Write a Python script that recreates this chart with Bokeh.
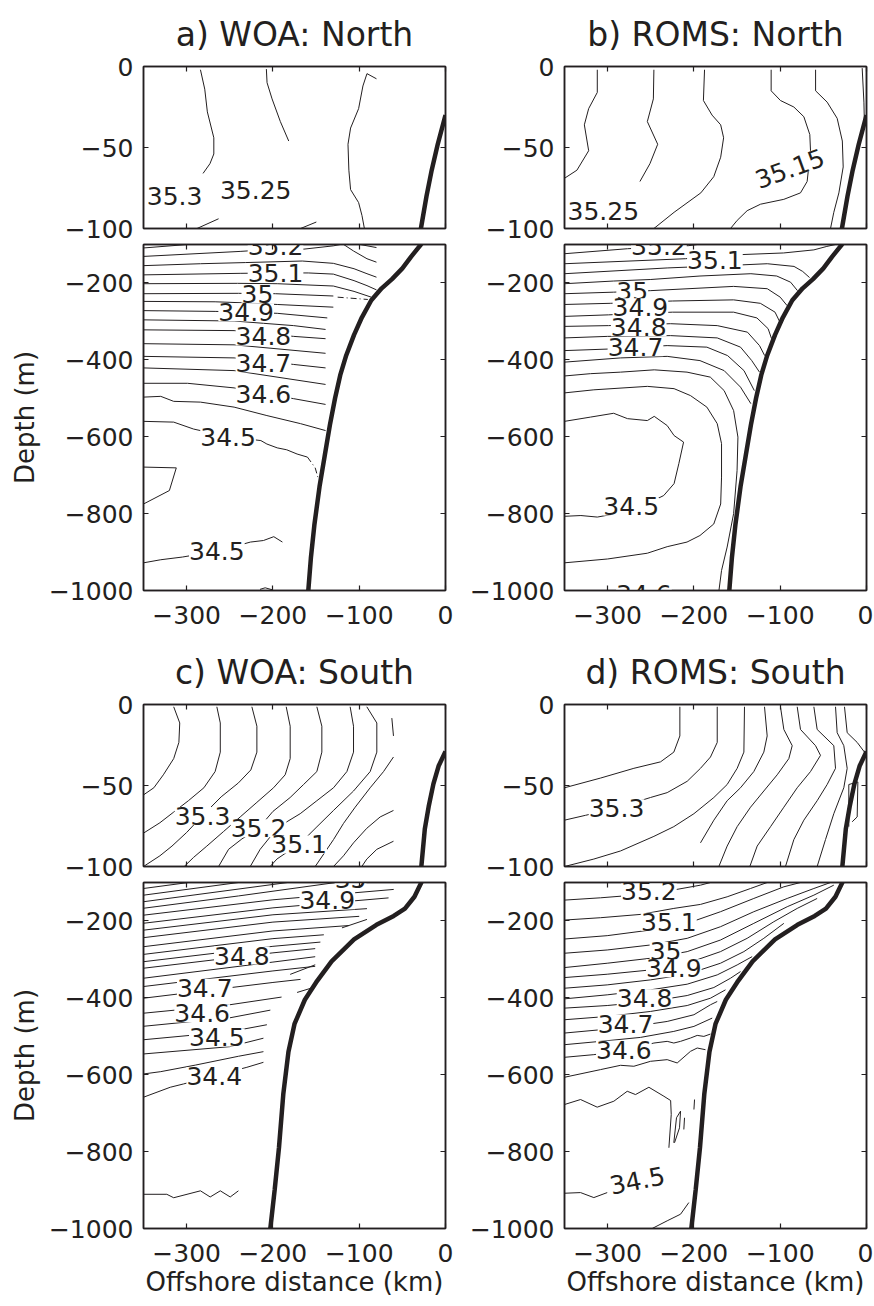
from bokeh.plotting import figure
from bokeh.models import Range1d, LinearAxis, FixedTicker, ColumnDataSource
from bokeh.layouts import column, row
from bokeh.embed import file_html
from bokeh.resources import INLINE
from bokeh.core.properties import value

FONT = "DejaVu Sans"
INK = "#231f20"

# ---------------- ticks ----------------
x_ticks = [-300, -200, -100, 0]
y_ticks_upper = [0, -50, -100]
y_ticks_lower = [-200, -400, -600, -800, -1000]

# ---------------- bathymetry (offshore km, depth m) ----------------
bathy_north_x = [0, -9, -16, -22, -28.5, -40, -50, -62, -74, -86, -97, -106, -115, -122, -128, -134, -140, -146, -152, -156, -159]
bathy_north_y = [-30, -48, -64, -80, -100, -132, -162, -190, -214, -245, -290, -335, -388, -440, -500, -570, -650, -730, -830, -915, -1000]
bathy_south_x = [0, -8, -14, -19.5, -24, -28, -36, -47, -60, -80, -106, -132, -150, -163, -175, -182, -188, -193, -198, -203]
bathy_south_y = [-29, -38, -49, -63, -77, -100, -137, -168, -187, -210, -248, -305, -360, -405, -468, -540, -651, -790, -900, -1000]

# ---------------- a) WOA North ----------------
a_up_xs = [[-284, -279, -276, -268.5, -268.5, -273, -281], [-288, -263],
           [-207.6, -206.8, -201, -191.4, -181.7], [-168, -149.7],
           [-80, -91, -95.7, -100.7, -110, -113, -112, -110, -100.7, -96.8, -94]]
a_up_ys = [[-2, -14, -28, -44, -54, -60, -66], [-100, -94],
           [-1.6, -10, -20, -34, -46], [-100, -96],
           [-7.6, -4.4, -12, -26, -38, -48, -64, -76, -84, -92, -100]]
a_up_lab_x = [-314, -220]
a_up_lab_y = [-80, -76]
a_up_lab_t = ["35.3", "35.25"]

a_low_xs = [[-350, -299], [-350, -238, -197, -164, -130, -122], [-118, -106.5, -91, -80], [-99, -80],
            [-350, -284, -232, -166, -130, -106, -91, -80],
            [-350, -238, -197, -159, -130, -106, -91, -80],
            [-350, -241, -195, -130, -106, -86],
            [-350, -240, -197, -130],
            [-350, -267, -231, -195, -130],
            [-350, -267, -231, -195, -137],
            [-350, -245, -211, -176, -139],
            [-350, -245, -211, -176, -139],
            [-350, -245, -139],
            [-350, -245, -211, -176, -139],
            [-350, -245, -139],
            [-350, -299, -245, -211, -176, -139],
            [-350, -330, -315, -284, -245, -207, -168, -139],
            [-350, -315, -292, -252, -214, -207, -195, -184, -172, -160],
            [-350, -312, -320, -350],
            [-350, -330, -305, -265, -226, -211, -199, -189],
            [-215, -209, -201]]
a_low_ys = [[-109, -100], [-131, -118, -112, -112, -103.5, -100], [-100, -117, -137, -146], [-100, -108],
            [-155, -150, -147, -143, -149, -163, -176, -185],
            [-179, -175, -174, -174, -177, -194, -207, -218],
            [-202, -201, -202, -208, -222, -237],
            [-228, -227, -228, -234],
            [-248, -249, -252, -256, -263],
            [-272, -274, -276, -279, -291],
            [-296, -299, -305, -311, -321],
            [-322, -324, -331, -339, -345],
            [-358, -361, -383],
            [-391, -395, -403, -412, -421],
            [-421, -428, -464],
            [-461, -461, -473, -488, -501, -516],
            [-497, -495, -508, -510, -523, -545, -566, -584],
            [-560, -562, -580, -600, -610, -619, -629, -634, -645, -653],
            [-679, -681, -740, -775],
            [-928, -920, -913, -898, -874, -870, -860, -874],
            [-997, -993, -998]]
a_low_dash_xs = [[-125, -90], [-160, -151, -148]]
a_low_dash_ys = [[-237, -243], [-653, -681, -705]]
a_low_lab_x = [-197, -197, -218, -231, -211, -211, -211, -252, -265]
a_low_lab_y = [-105, -175, -228, -276, -339, -409, -488, -600, -898]
a_low_lab_t = ["35.2", "35.1", "35", "34.9", "34.8", "34.7", "34.6", "34.5", "34.5"]

# ---------------- b) ROMS North ----------------
b_up_xs = [[-312, -312, -322, -327, -322, -335.6, -350],
           [-246.4, -247, -254, -242, -251, -262.6],
           [-187.7, -189, -179, -169, -165.6, -169, -177, -192, -223, -246.4],
           [-110.5, -110.5, -99.7, -84.2, -72.6, -65.7, -64.9, -68.8, -76.5, -95.8, -122.8, -138.3, -149.9, -157.6],
           [-59, -59, -45.6, -34, -28, -27, -32, -37.9, -41.7],
           [-5, -3, -2.3]]
b_up_ys = [[-2, -16, -26, -36, -52, -64, -69],
           [-2, -20, -34, -48, -60, -71],
           [-2, -21, -30, -36, -44, -56, -68, -78, -90, -100],
           [-2, -15, -21, -25, -31, -42, -52, -71, -78, -82, -85, -89, -95, -100],
           [-2, -15, -22, -32, -46, -62, -78, -90, -100],
           [-1, -22, -38]]
b_up_lab_x = [-305, -89]
b_up_lab_y = [-89, -63]
b_up_lab_t = ["35.25", "35.15"]
b_up_lab_a = [0, 0.35]

b_low_xs = [[-350, -277, -206, -196],
            [-350, -210, -142, -96, -61, -46, -36],
            [-350, -231, -154, -115, -84, -74, -66],
            [-350, -293, -250, -193, -134, -104, -88, -80],
            [-350, -293, -250, -154, -115, -100, -92],
            [-350, -297, -225, -154, -123, -106, -101],
            [-350, -299, -225, -154, -127, -114, -110],
            [-350, -299, -227, -173, -138, -124, -118],
            [-350, -300, -227, -173, -146, -133, -124],
            [-350, -300, -231, -185, -161, -142, -130],
            [-350, -285, -231, -193, -165, -146, -134],
            [-350, -320, -285, -246, -208, -181, -165, -154, -149, -150, -154, -161.5, -168, -171],
            [-350, -316, -254, -223, -204, -185, -173, -168, -168, -169, -177, -193, -208, -231, -254, -300, -350],
            [-350, -320, -293, -277, -254, -246, -231, -223, -212, -217.5, -223, -235, -255, -290, -312, -331, -350]]
b_low_ys = [[-124, -111, -103, -100],
            [-150, -137, -126, -122, -114, -105, -100],
            [-176, -161, -154, -150, -157, -170, -186],
            [-202, -195, -191, -182, -176, -182, -198, -220],
            [-228, -224, -220, -209, -215, -237, -259],
            [-256, -253, -247, -244, -253, -276, -299],
            [-287, -283, -276, -276, -291, -319, -345],
            [-313, -311, -306, -311, -328, -363, -389],
            [-343, -339, -337, -343, -367, -402, -432],
            [-376, -372, -363, -367, -389, -428, -480],
            [-406, -395, -391, -402, -428, -471, -514],
            [-442, -436, -432, -426, -432, -445, -480, -532, -601, -688, -800, -887, -948, -1000],
            [-486, -478, -469, -475, -493, -523, -566, -618, -705, -775, -827, -857, -874, -886, -903, -918, -928],
            [-560, -549, -539, -553, -558, -547, -571, -597, -614, -670, -722, -753, -775, -800, -809, -805, -807]]
b_low_lab_x = [-240.6, -175.7, -271.5, -262, -264, -267.7, -272.7, -258]
b_low_lab_y = [-105, -140, -221, -263, -315, -367, -781.5, -1008]
b_low_lab_t = ["35.2", "35.1", "35", "34.9", "34.8", "34.7", "34.5", "34.6"]

# ---------------- c) WOA South ----------------
c_up_xs = [[-315, -308, -309, -315, -327, -338, -350],
           [-265, -261, -261, -267, -280, -298, -315, -331, -350],
           [-224.4, -218.6, -218.6, -225.6, -240, -260, -282, -300, -317, -331, -350],
           [-184.6, -180, -180, -185.8, -199.3, -218.6, -237.9, -257.2, -276.6, -292, -302.8],
           [-149.1, -143.3, -143.3, -149.1, -164.5, -180, -200, -216.7, -236, -251.4, -263],
           [-110.5, -106.6, -106.6, -114.3, -129.8, -149.1, -168.4, -183.9, -201.2, -214.8, -226.3],
           [-91.2, -79.6, -79.6, -87.3, -106.6, -129.8, -150, -169.6, -186, -195.4, -203.2],
           [-62.2, -60.3],
           [-60.3, -71.8, -87.3, -104.7, -118.2, -129.8, -151],
           [-60.3, -75.7, -91.2, -106.6, -118.2, -129.8],
           [-60.3, -79.6, -91.2, -97]]
c_up_ys = [[-1.4, -11.4, -23.4, -33.4, -43.4, -51.4, -55.8],
           [-1.4, -11.4, -29.4, -41.4, -51.4, -59.4, -66.4, -73, -79.4],
           [-1.4, -13.4, -29.4, -40.4, -48.4, -57, -68.8, -79, -87.4, -93.4, -100],
           [-1.4, -13.4, -33.4, -43.4, -51.4, -60.4, -69.4, -78.4, -87.4, -94.4, -100],
           [-1.4, -13.4, -29.4, -41.4, -49.4, -57.4, -66, -76.4, -83, -89.4, -100],
           [-1.4, -13.4, -29.4, -41.4, -51.4, -59.4, -67.4, -72.4, -80.4, -89.4, -100],
           [-1.4, -11.4, -29.4, -41.4, -53.4, -65.4, -76, -86.4, -92, -95.4, -100],
           [-8.4, -19.4],
           [-32.4, -41.4, -51.4, -63.4, -73.4, -83.4, -100],
           [-65.4, -69.4, -76.4, -85.4, -93.4, -100],
           [-84.4, -89.4, -95.4, -100]]
c_up_lab_x = [-281.6, -216.7, -169.6]
c_up_lab_y = [-68.8, -76.4, -86.4]
c_up_lab_t = ["35.3", "35.2", "35.1"]

c_low_xs = [[-350, -298], [-350, -240], [-350, -183], [-350, -240, -127],
            [-350, -200, -60], [-350, -200, -66], [-350, -200, -91], [-350, -200, -100],
            [-350, -200, -112], [-350, -200, -141], [-350, -200, -145], [-350, -200, -151],
            [-350, -200, -151], [-350, -200, -151], [-350, -200, -168], [-350, -250, -190],
            [-350, -250, -203], [-350, -250, -207], [-350, -250, -211],
            [-350, -330, -290, -240, -211],
            [-350, -319, -303.6, -230.2, -211],
            [-350, -323, -315, -284, -272.7, -261, -249.5, -240],
            [-120, -91], [-180, -151], [-172, -153]]
c_low_ys = [[-115.6, -100], [-133, -100], [-150, -100], [-167, -135, -100],
            [-185, -145, -118], [-206, -166, -140], [-224, -184, -168], [-243.5, -203, -188],
            [-267, -226, -212], [-287, -246, -236], [-306, -266, -255], [-323, -283, -272],
            [-349, -307, -293], [-370.6, -330, -318], [-401, -360, -352], [-440, -418, -398],
            [-474, -452, -432], [-509, -488, -470], [-546, -527, -505],
            [-598, -592, -575, -552, -540],
            [-658.5, -632.6, -624, -580.7, -567.7],
            [-911, -911, -920, -902, -918, -902, -918, -902],
            [-218, -196], [-339, -314], [-386, -373]]
c_low_lab_x = [-110, -137, -236, -279, -282, -265, -268]
c_low_lab_y = [-90, -146, -290, -374, -440, -503, -603]
c_low_lab_t = ["35", "34.9", "34.8", "34.7", "34.6", "34.5", "34.4"]

# ---------------- d) ROMS South ----------------
d_up_xs = [[-216.3, -216.3, -223.3, -238.7, -269.6, -308.2, -350],
           [-173, -173, -180.8, -192.4, -207.8, -231, -250.3, -290, -325.6, -350],
           [-141.4, -142.1, -149.9, -161.5, -176.9, -200, -223.3, -246.4, -285, -316, -350],
           [-118.2, -115.1, -119, -130.6, -146, -161.5, -176.9, -192.4],
           [-99.7, -95.8, -86.1, -90, -103.5, -119, -134.4, -149.9, -161.5, -171.1],
           [-80.3, -76.5, -59.1, -53.3, -64.9, -80.3, -95.8, -111.2, -126.7, -135.2],
           [-61, -57.2, -37.9, -35.9, -45.6, -57.2, -72.6, -84.2, -93.9],
           [-35.9, -34, -26.3, -22.4, -26.3, -37.9, -47.5, -57.2],
           [-25.5, -22.4, -10.8, -2.3],
           [-20.5, -20.5, -10, -10.8, -16.6]]
d_up_ys = [[-1.4, -19.4, -29.4, -35.4, -39.4, -45.4, -51.4],
           [-1.4, -23.4, -32.4, -39.4, -47.4, -54.4, -57.4, -64, -68.4, -71.4],
           [-1.4, -29.4, -39.4, -49.4, -57.4, -67.4, -75.4, -81.4, -90.4, -95.4, -100],
           [-1.4, -19.4, -29.4, -41.4, -51.4, -59.4, -71.4, -85.4],
           [-1.4, -15.4, -25.4, -33.4, -43.4, -53.4, -63.4, -75.4, -87.4, -100],
           [-1.4, -15.4, -25.4, -31.4, -41.4, -51.4, -63.4, -75.4, -87.4, -100],
           [-1.4, -15.4, -25.4, -39.4, -49.4, -59.4, -71.4, -83.4, -100],
           [-1.4, -17.4, -25.4, -39.4, -51.4, -67.4, -83.4, -100],
           [-1.4, -17.4, -23.4, -29.4],
           [-75.4, -49.4, -47.8, -69.4, -72.4]]
d_up_lab_x = [-289.7]
d_up_lab_y = [-64]
d_up_lab_t = ["35.3"]

d_low_xs = [[-350, -308.2, -269.6, -231, -192.4, -180.8],
            [-350, -308.2, -261.9, -223.3, -192.4, -161.5, -134.4, -115.1],
            [-350, -300.5, -250.3, -207.8, -169.2, -130.6, -95.8, -76.5],
            [-350, -300.5, -250.3, -207.8, -169.2, -130.6, -91.9, -61, -41.7],
            [-350, -300.5, -250.3, -207.8, -169.2, -130.6, -91.9, -61, -37.9],
            [-350, -300.5, -250.3, -207.8, -169.2, -138.3, -107.4, -80.3, -57.2],
            [-350, -300.5, -250.3, -207.8, -169.2, -142.1, -119, -95.8],
            [-350, -300.5, -250.3, -207.8, -173, -149.9, -132.5],
            [-350, -300.5, -250.3, -207.8, -176.9, -157.6, -146],
            [-350, -300.5, -250.3, -207.8, -180.8, -163.4],
            [-350, -308.2, -269.6, -231, -200, -180.8, -173],
            [-350, -308.2, -261.9, -223.3, -200, -178.8],
            [-350, -316, -285, -246.4, -231, -223.3, -215.5, -204, -196.2, -188.5, -180.8],
            [-350, -308.2, -285, -269.6, -250.3, -231, -219.4, -204, -196.2, -186.6],
            [-350, -331.4, -312.1, -292.8, -277.3, -267.7, -252.2, -234.8, -227, -226.3, -229],
            [-223.3, -220.2, -215.5, -216.7, -222.5],
            [-211.7, -210.9],
            [-200, -199.3],
            [-350, -331.4, -316, -300.5],
            [-248.4, -231, -215.5, -205.9]]
d_low_ys = [[-145.8, -139.8, -132.9, -122.5, -106.9, -100],
            [-197.7, -191.6, -183, -167.4, -157, -137.2, -115.6, -100],
            [-247, -238.3, -223.6, -206.3, -176, -141.5, -111.2, -100],
            [-284, -275.5, -262.5, -245.2, -215, -176, -141.5, -115.6, -100],
            [-321.3, -310, -297, -279.8, -249.6, -206.3, -163, -132.9, -106.9],
            [-347.3, -338.6, -327.4, -310, -279.8, -245.2, -202, -167.4, -141.5],
            [-375, -366.3, -353.3, -338.6, -310, -279.8, -245.2, -206.3],
            [-402.6, -392.2, -379.2, -364.5, -340.3, -314.4, -292.8],
            [-426.8, -420, -409.5, -394, -373.2, -349, -331.7],
            [-457, -448.4, -435.4, -420, -400.9, -379.2],
            [-491.6, -483, -474.3, -461.4, -444, -418, -409.5],
            [-521.9, -513.2, -502.9, -487.3, -474.3, -452.7],
            [-554.7, -547.8, -539.2, -517.6, -513.2, -517.6, -513.2, -504.6, -497.7, -500.3, -494.2],
            [-606.6, -586.7, -575.5, -578, -565.1, -560.8, -569.4, -539.2, -530.5, -534.9],
            [-677.5, -664.5, -684.4, -668.9, -643, -651.6, -632.6, -656, -667.1, -703.4, -790],
            [-777, -712, -694.8, -738, -777],
            [-742.4, -712],
            [-690.5, -664.5],
            [-908.3, -906.6, -919.6, -906.6],
            [-1000, -980, -962.8, -932.5]]
d_low_lab_x = [-252.2, -229, -232.9, -223.3, -257.2, -279.3, -281.2, -265.7]
d_low_lab_y = [-121, -202, -278, -323, -401, -467, -535, -875]
d_low_lab_t = ["35.2", "35.1", "35", "34.9", "34.8", "34.7", "34.6", "34.5"]
d_low_lab_a = [0, 0, 0, 0, 0, 0, 0, 0.2]


def tick_text(v):
    return ("\u2212" + str(-v)) if v < 0 else str(v)


def style_axis(ax, ticks, show_labels, standoff=10):
    ax.ticker = FixedTicker(ticks=ticks)
    ax.axis_line_color = INK
    ax.axis_line_width = 1.5
    ax.major_tick_line_color = INK
    ax.major_tick_line_width = 1.2
    ax.major_tick_in = 5
    ax.major_tick_out = 0
    ax.minor_tick_line_color = None
    ax.minor_tick_in = 0
    ax.minor_tick_out = 0
    ax.major_label_text_font = FONT
    ax.major_label_text_color = INK
    if show_labels:
        ax.major_label_overrides = {v: tick_text(v) for v in ticks}
        ax.major_label_text_font_size = "25px"
        ax.major_label_standoff = standoff
    else:
        ax.major_label_overrides = {v: "" for v in ticks}
        ax.major_label_text_font_size = "0px"
        ax.major_label_standoff = 0


def label_style(ax, text, standoff):
    ax.axis_label = text
    ax.axis_label_text_font = FONT
    ax.axis_label_text_font_size = "26px"
    ax.axis_label_text_font_style = "normal"
    ax.axis_label_text_color = INK
    ax.axis_label_standoff = standoff


def make_panel(w, h, lb, rb, tb, bb, yr, yticks, show_x, xs, ys, lx, ly, lt, la,
               bx, by, title=None, ylabel=None, xlabel=None, dash_xs=None, dash_ys=None,
               x_standoff=15, xl_standoff=2):
    p = figure(width=w, height=h, x_range=Range1d(-350, 0), y_range=Range1d(*yr),
               output_backend="svg", toolbar_location=None, title=title,
               min_border_left=lb, min_border_right=rb, min_border_top=tb, min_border_bottom=bb)
    p.xgrid.visible = False
    p.ygrid.visible = False
    p.outline_line_color = INK
    p.outline_line_width = 1.5
    p.background_fill_color = "white"
    p.border_fill_color = "white"

    bottom_ax = p.below[0]
    left_ax = p.left[0]
    style_axis(bottom_ax, x_ticks, show_x, x_standoff)
    style_axis(left_ax, yticks, True, 10)
    if ylabel:
        label_style(left_ax, ylabel, 6)
    if xlabel:
        label_style(bottom_ax, xlabel, xl_standoff)

    top_ax = LinearAxis()
    style_axis(top_ax, x_ticks, False)
    p.add_layout(top_ax, "above")
    right_ax = LinearAxis()
    style_axis(right_ax, yticks, False)
    p.add_layout(right_ax, "right")

    if title is not None:
        p.title.align = "center"
        p.title.text_font = FONT
        p.title.text_font_size = "33px"
        p.title.text_font_style = "normal"
        p.title.text_color = INK
        p.title.standoff = 25

    p.multi_line(xs=xs, ys=ys, line_color=INK, line_width=1)
    if dash_xs:
        p.multi_line(xs=dash_xs, ys=dash_ys, line_color=INK, line_width=1, line_dash="6 3 1 3")
    src = ColumnDataSource(dict(x=lx, y=ly, text=lt, angle=la if la else [0] * len(lx)))
    p.text(x="x", y="y", text="text", angle="angle", source=src,
           text_font=value(FONT), text_font_size=value("25px"), text_color=INK,
           text_align="center", text_baseline="middle",
           background_fill_color="white")
    p.line(bx, by, line_color=INK, line_width=4.5)
    return p


# page layout (the page has no body margin): frames at x 143-445 and 564-866
WA, LBA, RBA = 457, 143, 12
WB, LBB, RBB = 416, 107, 7
H_UP, H_LOW1, H_LOW2 = 243, 395, 423

a_up = make_panel(WA, H_UP, LBA, RBA, 63, 15, (-100, 0), y_ticks_upper, False,
                  a_up_xs, a_up_ys, a_up_lab_x, a_up_lab_y, a_up_lab_t, None,
                  bathy_north_x, bathy_north_y, title="a) WOA: North")
a_low = make_panel(WA, H_LOW1, LBA, RBA, 1, 48, (-1000, -100), y_ticks_lower, True,
                   a_low_xs, a_low_ys, a_low_lab_x, a_low_lab_y, a_low_lab_t, None,
                   bathy_north_x, bathy_north_y, ylabel="Depth (m)",
                   dash_xs=a_low_dash_xs, dash_ys=a_low_dash_ys)
b_up = make_panel(WB, H_UP, LBB, RBB, 63, 15, (-100, 0), y_ticks_upper, False,
                  b_up_xs, b_up_ys, b_up_lab_x, b_up_lab_y, b_up_lab_t, b_up_lab_a,
                  bathy_north_x, bathy_north_y, title="b) ROMS: North")
b_low = make_panel(WB, H_LOW1, LBB, RBB, 1, 48, (-1000, -100), y_ticks_lower, True,
                   b_low_xs, b_low_ys, b_low_lab_x, b_low_lab_y, b_low_lab_t, None,
                   bathy_north_x, bathy_north_y)
c_up = make_panel(WA, H_UP, LBA, RBA, 63, 15, (-100, 0), y_ticks_upper, False,
                  c_up_xs, c_up_ys, c_up_lab_x, c_up_lab_y, c_up_lab_t, None,
                  bathy_south_x, bathy_south_y, title="c) WOA: South")
c_low = make_panel(WA, H_LOW2, LBA, RBA, 1, 76, (-1000, -100), y_ticks_lower, True,
                   c_low_xs, c_low_ys, c_low_lab_x, c_low_lab_y, c_low_lab_t, None,
                   bathy_south_x, bathy_south_y, ylabel="Depth (m)",
                   xlabel="Offshore distance (km)")
d_up = make_panel(WB, H_UP, LBB, RBB, 63, 15, (-100, 0), y_ticks_upper, False,
                  d_up_xs, d_up_ys, d_up_lab_x, d_up_lab_y, d_up_lab_t, None,
                  bathy_south_x, bathy_south_y, title="d) ROMS: South")
d_low = make_panel(WB, H_LOW2, LBB, RBB, 1, 76, (-1000, -100), y_ticks_lower, True,
                   d_low_xs, d_low_ys, d_low_lab_x, d_low_lab_y, d_low_lab_t, d_low_lab_a,
                   bathy_south_x, bathy_south_y,
                   xlabel="Offshore distance (km)")

layout = column(row(column(a_up, a_low), column(b_up, b_low)),
                row(column(c_up, c_low), column(d_up, d_low)))

open("out.html", "w").write(file_html(layout, INLINE))
